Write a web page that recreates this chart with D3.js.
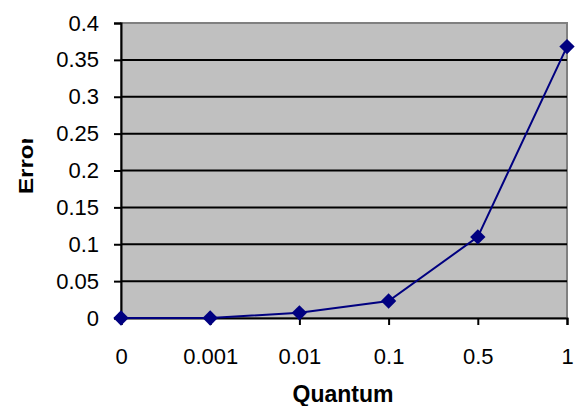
<!DOCTYPE html>
<html>
<head>
<meta charset="utf-8">
<script src="https://cdn.jsdelivr.net/npm/d3@7"></script>
<style>
  html, body { margin: 0; padding: 0; background: #ffffff; }
  svg { display: block; }
  text { font-family: "Liberation Sans", Arial, sans-serif; }
</style>
</head>
<body>
<svg id="chart" width="581" height="406"></svg>
<script>
// Error for each quantum setting
const categories = ["0", "0.001", "0.01", "0.1", "0.5", "1"];
const errorValues = [0, 0, 0.007, 0.023, 0.110, 0.368];
const yTicks = [0, 0.05, 0.1, 0.15, 0.2, 0.25, 0.3, 0.35, 0.4];

const svg = d3.select("#chart");
const plot = { left: 121, right: 567, top: 23, bottom: 318 };

const x = d3.scalePoint().domain(categories).range([plot.left, plot.right]).padding(0);
const y = d3.scaleLinear().domain([0, 0.4]).range([plot.bottom, plot.top]);

// plot background with grey frame on top/right
svg.append("rect")
  .attr("x", plot.left).attr("y", plot.top)
  .attr("width", plot.right - plot.left).attr("height", plot.bottom - plot.top)
  .attr("fill", "#c0c0c0").attr("stroke", "#808080").attr("stroke-width", 2);

// horizontal gridlines
svg.append("g").selectAll("line")
  .data(yTicks.filter(d => d > 0 && d < 0.4))
  .join("line")
  .attr("x1", plot.left).attr("x2", plot.right)
  .attr("y1", d => y(d)).attr("y2", d => y(d))
  .attr("stroke", "#000").attr("stroke-width", 2);

// y axis
const yAxis = d3.axisLeft(y).tickValues(yTicks).tickSize(7).tickPadding(15)
  .tickFormat(d => d3.format("")(+d.toFixed(2)));
const gy = svg.append("g").attr("transform", `translate(${plot.left},0)`).call(yAxis);
gy.select(".domain").attr("stroke", "#000").attr("stroke-width", 2);
gy.selectAll(".tick line").attr("stroke", "#000").attr("stroke-width", 2);
gy.selectAll(".tick text").attr("font-size", 22).attr("fill", "#000")
  .attr("font-family", "'Liberation Sans', Arial, sans-serif");

// x axis
const xAxis = d3.axisBottom(x).tickSize(7).tickPadding(23);
const gx = svg.append("g").attr("transform", `translate(0,${plot.bottom})`).call(xAxis);
gx.select(".domain").attr("stroke", "#000").attr("stroke-width", 2);
gx.selectAll(".tick line").attr("stroke", "#000").attr("stroke-width", 2);
gx.selectAll(".tick text").attr("font-size", 22).attr("fill", "#000")
  .attr("font-family", "'Liberation Sans', Arial, sans-serif");

// series line
const line = d3.line().x((d, i) => x(categories[i])).y(d => y(d));
svg.append("path")
  .datum(errorValues)
  .attr("d", line)
  .attr("fill", "none")
  .attr("stroke", "#000080")
  .attr("stroke-width", 2);

// diamond markers
const diamond = d3.symbol().type(d3.symbolDiamond2).size(150);
svg.append("g").selectAll("path")
  .data(errorValues)
  .join("path")
  .attr("transform", (d, i) => `translate(${x(categories[i])},${y(d)})`)
  .attr("d", diamond)
  .attr("fill", "#000080");

// axis titles
svg.append("text")
  .attr("x", 343).attr("y", 402)
  .attr("text-anchor", "middle")
  .attr("font-size", 23).attr("font-weight", "bold")
  .text("Quantum");

// y title, cut off at the top of its box
svg.append("defs").append("clipPath").attr("id", "ylabel-clip")
  .append("rect").attr("x", 0).attr("y", 139).attr("width", 60).attr("height", 100);

svg.append("g")
  .attr("clip-path", "url(#ylabel-clip)")
  .append("text")
  .attr("transform", "translate(33,194) rotate(-90) scale(1.15,1)")
  .attr("text-anchor", "start")
  .attr("font-size", 21).attr("font-weight", "bold")
  .text("Error");
</script>
</body>
</html>
